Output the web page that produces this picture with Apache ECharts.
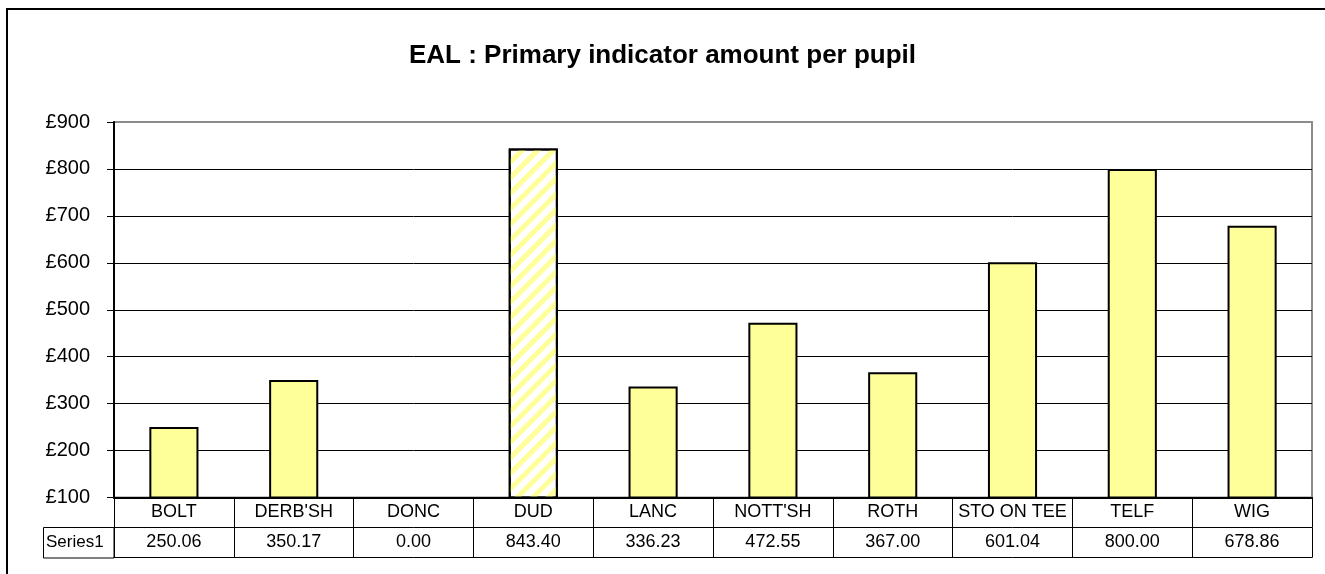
<!DOCTYPE html>
<html>
<head>
<meta charset="utf-8">
<title>EAL : Primary indicator amount per pupil</title>
<script src="https://cdn.jsdelivr.net/npm/echarts@6/dist/echarts.min.js"></script>
<style>
  html, body { margin: 0; padding: 0; background: #fff; }
  #chart { width: 1325px; height: 574px; }
</style>
</head>
<body>
<div id="chart"></div>
<script>
// categories and values
var categories = ['BOLT', "DERB'SH", 'DONC', 'DUD', 'LANC', "NOTT'SH", 'ROTH', 'STO ON TEE', 'TELF', 'WIG']
var values = [250.06, 350.17, 0.00, 843.40, 336.23, 472.55, 367.00, 601.04, 800.00, 678.86]
var highlighted = 'DUD' // hatched bar
var seriesName = 'Series1'
var yTicks = [100, 200, 300, 400, 500, 600, 700, 800, 900]

var font = '"Liberation Sans", Arial, sans-serif'

// value row of the data table
var valueLabels = values.map(function (v) { return v.toFixed(2) })

var barData = values.map(function (v, i) {
  if (categories[i] !== highlighted) return v
  return {
    value: v,
    itemStyle: {
      color: '#ffffff',
      decal: {
        symbol: 'rect',
        color: '#ffff99',
        dashArrayX: [1, 0],
        dashArrayY: [5, 6],
        rotation: -Math.PI / 4
      }
    }
  }
})

// splitLine colours, the top one stays grey like the plot border
var splitColors = yTicks.map(function (t, i) { return i === yTicks.length - 1 ? '#8c8c8c' : '#000' })

var chart = echarts.init(document.getElementById('chart'))
chart.setOption({
  animation: false,
  title: {
    text: 'EAL : Primary indicator amount per pupil',
    left: 'center',
    top: 38,
    textStyle: { fontFamily: font, fontSize: 26, fontWeight: 'bold', color: '#000' }
  },
  grid: {
    left: 114,
    right: 13,
    top: 122,
    bottom: 76.5,
    show: true,
    borderColor: '#8c8c8c',
    borderWidth: 2
  },
  xAxis: [
    {
      // category row
      type: 'category',
      data: categories,
      position: 'bottom',
      axisLine: { lineStyle: { color: '#000', width: 2 } },
      axisTick: { show: true, length: 30, lineStyle: { color: '#000', width: 1 } },
      axisLabel: {
        interval: 0, margin: 15, verticalAlign: 'middle',
        fontFamily: font, fontSize: 18, color: '#000'
      }
    },
    {
      // value row
      type: 'category',
      data: valueLabels,
      position: 'bottom',
      offset: 30,
      axisLine: { lineStyle: { color: '#000', width: 1 } },
      axisTick: { show: true, length: 30, lineStyle: { color: '#000', width: 1 } },
      axisLabel: {
        interval: 0, margin: 15, verticalAlign: 'middle',
        fontFamily: font, fontSize: 18, color: '#000'
      }
    },
    {
      // bottom edge of the table
      type: 'category',
      data: categories,
      position: 'bottom',
      offset: 60,
      axisLine: { lineStyle: { color: '#000', width: 1 } },
      axisTick: { show: false },
      axisLabel: { show: false }
    }
  ],
  yAxis: {
    type: 'value',
    min: 100,
    max: 900,
    interval: 100,
    axisLine: { show: true, lineStyle: { color: '#000', width: 2 } },
    axisTick: { show: true, length: 7, lineStyle: { color: '#000', width: 1 } },
    axisLabel: {
      margin: 24,
      fontFamily: font, fontSize: 20, color: '#000',
      formatter: function (v) { return '£' + v }
    },
    splitLine: { show: true, lineStyle: { color: splitColors, width: 1 } }
  },
  series: [
    {
      name: seriesName,
      type: 'bar',
      xAxisIndex: 0,
      data: barData,
      barWidth: '41%',
      itemStyle: { color: '#ffff99', borderColor: '#000', borderWidth: 2 }
    }
  ],
  graphic: [
    {
      // outer chart frame
      type: 'rect',
      shape: { x: 7, y: 9, width: 1400, height: 700 },
      style: { fill: 'none', stroke: '#000', lineWidth: 2 },
      silent: true
    },
    {
      // legend cell of the data table
      type: 'rect',
      shape: { x: 43.5, y: 527.5, width: 70.5, height: 30.5 },
      style: { fill: 'none', stroke: '#000', lineWidth: 1 },
      silent: true
    },
    {
      type: 'text',
      left: 46,
      top: 534,
      style: { text: seriesName, fontFamily: font, fontSize: 17, fill: '#000' },
      silent: true
    }
  ]
})
</script>
</body>
</html>
